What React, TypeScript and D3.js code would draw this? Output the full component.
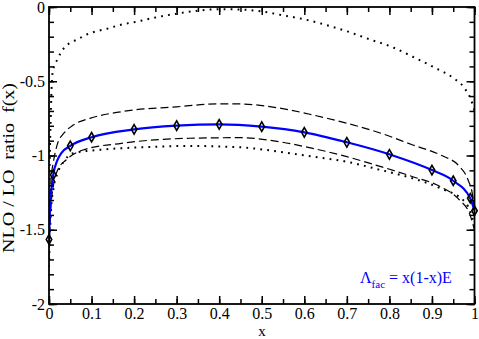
import React, { useEffect, useRef } from 'react';
import * as d3 from 'd3';

const width = 479;
const height = 339;
const margin = { top: 7, right: 4.5, bottom: 35, left: 49 };
const plotW = width - margin.left - margin.right;
const plotH = height - margin.top - margin.bottom;

// blue curve, Lambda_fac = x(1-x)E
const blueX = [0, 0.002, 0.005, 0.01, 0.02, 0.03, 0.05, 0.1, 0.2, 0.3, 0.4, 0.5, 0.6, 0.7, 0.8, 0.9, 0.95, 0.99, 1];
const blueY = [-1.565, -1.38, -1.25, -1.13, -1.03, -0.98, -0.935, -0.877, -0.824, -0.799, -0.79, -0.806, -0.844, -0.911, -0.992, -1.098, -1.17, -1.288, -1.372];
const markerX = [0, 0.01, 0.05, 0.1, 0.2, 0.3, 0.4, 0.5, 0.6, 0.7, 0.8, 0.9, 0.95, 0.99, 1];

// upper dashed band
const upDashX = [0, 0.002, 0.005, 0.01, 0.02, 0.035, 0.057, 0.096, 0.17, 0.3, 0.4, 0.45, 0.54, 0.62, 0.7, 0.78, 0.855, 0.92, 0.965, 0.985, 0.996, 1];
const upDashY = [-1.6, -1.35, -1.15, -1.05, -0.92, -0.85, -0.795, -0.75, -0.705, -0.672, -0.652, -0.653, -0.68, -0.727, -0.783, -0.85, -0.929, -0.997, -1.075, -1.165, -1.277, -1.4];

// lower dashed band
const loDashX = [0, 0.002, 0.005, 0.01, 0.02, 0.04, 0.08, 0.17, 0.33, 0.45, 0.54, 0.62, 0.7, 0.78, 0.855, 0.92, 0.965, 0.988, 1];
const loDashY = [-1.7, -1.5, -1.33, -1.21, -1.1, -1.03, -0.963, -0.918, -0.884, -0.88, -0.907, -0.952, -1.008, -1.075, -1.143, -1.21, -1.3, -1.389, -1.5];

// top dotted curve
const topDotX = [0, 0.002, 0.004, 0.006, 0.008, 0.012, 0.02, 0.027, 0.038, 0.052, 0.069, 0.086, 0.1, 0.137, 0.172, 0.206, 0.241, 0.3, 0.35, 0.4, 0.45, 0.5, 0.546, 0.597, 0.65, 0.703, 0.754, 0.804, 0.855, 0.902, 0.949, 0.977, 0.992, 1];
const topDotY = [-1.4, -1.0, -0.75, -0.55, -0.45, -0.4, -0.352, -0.312, -0.267, -0.238, -0.215, -0.189, -0.173, -0.146, -0.117, -0.099, -0.076, -0.045, -0.025, -0.015, -0.017, -0.03, -0.054, -0.081, -0.12, -0.166, -0.218, -0.267, -0.335, -0.402, -0.476, -0.548, -0.626, -0.7];

// lower dotted curve
const loDotX = [0, 0.002, 0.005, 0.01, 0.02, 0.035, 0.057, 0.135, 0.214, 0.33, 0.45, 0.54, 0.62, 0.7, 0.78, 0.855, 0.92, 0.98, 1];
const loDotY = [-1.75, -1.55, -1.36, -1.23, -1.12, -1.04, -0.985, -0.958, -0.945, -0.936, -0.945, -0.974, -1.008, -1.042, -1.098, -1.154, -1.221, -1.32, -1.47];

const xTicks = [0, 0.1, 0.2, 0.3, 0.4, 0.5, 0.6, 0.7, 0.8, 0.9, 1];
const xMinorTicks = d3.range(0, 1.0001, 0.05);
const yTicks = [0, -0.5, -1, -1.5, -2];
const yMinorTicks = d3.range(-2, 0.0001, 0.1);

const fontFamily = "'Liberation Serif', 'Times New Roman', Times, 'DejaVu Serif', serif";

const toPoints = (xs: number[], ys: number[]) => xs.map((x, i) => [x, ys[i]] as [number, number]);

export default function App() {
  const xAxisRef = useRef<SVGGElement>(null);
  const yAxisRef = useRef<SVGGElement>(null);
  const topAxisRef = useRef<SVGGElement>(null);
  const rightAxisRef = useRef<SVGGElement>(null);
  const xMinorRef = useRef<SVGGElement>(null);
  const yMinorRef = useRef<SVGGElement>(null);
  const topMinorRef = useRef<SVGGElement>(null);
  const rightMinorRef = useRef<SVGGElement>(null);

  const xScale = d3.scaleLinear().domain([0, 1]).range([0, plotW]);
  const yScale = d3.scaleLinear().domain([-2, 0]).range([plotH, 0]);

  const line = d3
    .line<[number, number]>()
    .x(d => xScale(d[0]))
    .y(d => yScale(d[1]))
    .curve(d3.curveMonotoneX);

  useEffect(() => {
    const fmt = (d: d3.NumberValue) => String(+d);

    // major ticks with labels (bottom / left), pointing inward
    const xAxis = d3.axisBottom(xScale).tickValues(xTicks).tickSize(-8).tickPadding(4).tickFormat(fmt);
    const yAxis = d3.axisLeft(yScale).tickValues(yTicks).tickSize(-8).tickPadding(4).tickFormat(fmt);
    const topAxis = d3.axisTop(xScale).tickValues(xTicks).tickSize(-8).tickFormat(() => '');
    const rightAxis = d3.axisRight(yScale).tickValues(yTicks).tickSize(-8).tickFormat(() => '');

    // minor ticks
    const xMinor = d3.axisBottom(xScale).tickValues(xMinorTicks).tickSize(-5).tickFormat(() => '');
    const yMinor = d3.axisLeft(yScale).tickValues(yMinorTicks).tickSize(-5).tickFormat(() => '');
    const topMinor = d3.axisTop(xScale).tickValues(xMinorTicks).tickSize(-5).tickFormat(() => '');
    const rightMinor = d3.axisRight(yScale).tickValues(yMinorTicks).tickSize(-5).tickFormat(() => '');

    const pairs: [React.RefObject<SVGGElement | null>, any][] = [
      [xAxisRef, xAxis],
      [yAxisRef, yAxis],
      [topAxisRef, topAxis],
      [rightAxisRef, rightAxis],
      [xMinorRef, xMinor],
      [yMinorRef, yMinor],
      [topMinorRef, topMinor],
      [rightMinorRef, rightMinor]
    ];
    pairs.forEach(([ref, axis]) => {
      const g = d3.select(ref.current!);
      g.call(axis);
      g.select('.domain').remove();
      g.selectAll('line').attr('stroke', '#000').attr('stroke-width', 1.5);
      g.attr('font-family', null).attr('font-size', null);
      g.selectAll('text').attr('fill', '#000').style('font-family', fontFamily).style('font-size', '16px');
    });
  }, []);

  const curves = [
    { pts: toPoints(topDotX, topDotY), dash: '1.8,5.2', w: 2 },
    { pts: toPoints(loDotX, loDotY), dash: '1.8,5.2', w: 2 },
    { pts: toPoints(upDashX, upDashY), dash: '8,4', w: 1.2 },
    { pts: toPoints(loDashX, loDashY), dash: '8,4', w: 1.2 }
  ];

  const bluePts = toPoints(blueX, blueY);
  const markers = bluePts.filter(d => markerX.includes(d[0]));
  const diamond = d3.symbol().type(d3.symbolDiamond).size(26)();

  const textStyle = { fontFamily };

  return (
    <svg width={width} height={height} style={{ position: 'absolute', left: 0, top: 0, background: '#fff' }}>
      <defs>
        <clipPath id="plotClip">
          <rect x={0} y={0} width={plotW} height={plotH} />
        </clipPath>
      </defs>
      <g transform={`translate(${margin.left},${margin.top})`}>
        <g clipPath="url(#plotClip)">
          {curves.map((c, i) => (
            <path key={i} d={line(c.pts) || ''} fill="none" stroke="#000" strokeWidth={c.w} strokeDasharray={c.dash} />
          ))}
          <path d={line(bluePts) || ''} fill="none" stroke="#0000ff" strokeWidth={2.2} />
        </g>
        {markers.map((d, i) => (
          <path
            key={i}
            d={diamond || ''}
            transform={`translate(${xScale(d[0])},${yScale(d[1])})`}
            fill="none"
            stroke="#000"
            strokeWidth={1.6}
          />
        ))}
        <g ref={xMinorRef} transform={`translate(0,${plotH})`} />
        <g ref={topMinorRef} />
        <g ref={yMinorRef} />
        <g ref={rightMinorRef} transform={`translate(${plotW},0)`} />
        <g ref={xAxisRef} transform={`translate(0,${plotH})`} />
        <g ref={topAxisRef} />
        <g ref={yAxisRef} />
        <g ref={rightAxisRef} transform={`translate(${plotW},0)`} />
        <rect x={0} y={0} width={plotW} height={plotH} fill="none" stroke="#000" strokeWidth={1.8} />
        <text x={360 - margin.left} y={283 - margin.top} fill="#0000ff" style={textStyle} fontSize={16}>
          Λ<tspan fontSize={11} dy={5}>fac</tspan>
          <tspan dy={-5}> = x(1-x)E</tspan>
        </text>
      </g>
      <text x={262} y={336} textAnchor="middle" style={textStyle} fontSize={15}>x</text>
      <text
        transform="translate(14,168) rotate(-90) scale(1.25,1)"
        textAnchor="middle"
        style={{ fontFamily, whiteSpace: 'pre' }}
        fontSize={16}
      >
        {'NLO / LO  ratio  f(x)'}
      </text>
    </svg>
  );
}
